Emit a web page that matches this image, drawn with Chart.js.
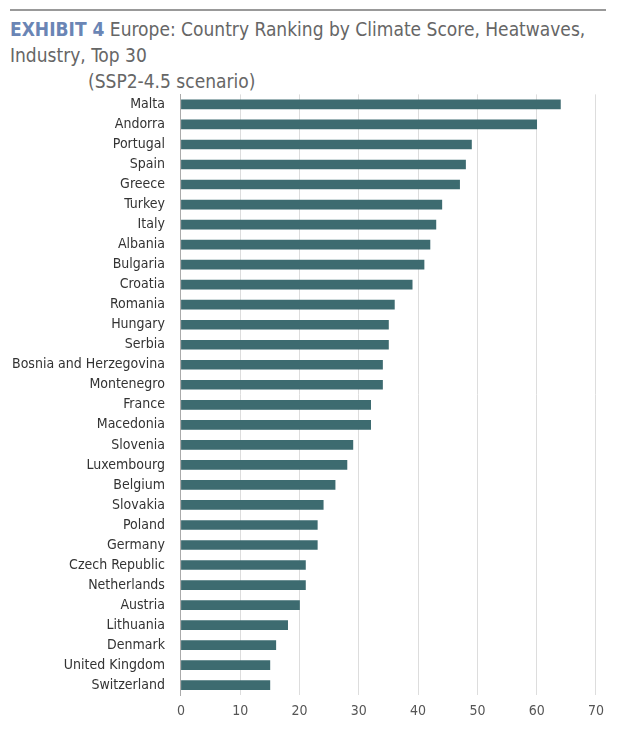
<!DOCTYPE html>
<html>
<head>
<meta charset="utf-8">
<script src="https://cdn.jsdelivr.net/npm/chart.js@4/dist/chart.umd.min.js"></script>
<style>
  body { margin: 0; background: #fff; font-family: "Liberation Sans Narrow", "DejaVu Sans Condensed", sans-serif; }
  .rule { position: absolute; left: 10px; top: 9px; width: 596px; border-top: 2px solid #999; }
  .title { position: absolute; left: 10px; top: 16px; font-size: 19px; color: #666; line-height: 26px; }
  .title b { color: #6a85b5; }
  .title .sub { padding-left: 78px; }
  .wrap { position: absolute; left: 0; top: 78px; width: 612px; height: 650px; }
</style>
</head>
<body>
<div class="rule"></div>
<div class="title"><b>EXHIBIT 4</b> Europe: Country Ranking by Climate Score, Heatwaves, Industry, Top 30<br><span class="sub">(SSP2-4.5 scenario)</span></div>
<div class="wrap"><canvas id="c"></canvas></div>
<script>
// countries, top to bottom
const countries = ['Malta', 'Andorra', 'Portugal', 'Spain', 'Greece', 'Turkey', 'Italy', 'Albania', 'Bulgaria', 'Croatia',
  'Romania', 'Hungary', 'Serbia', 'Bosnia and Herzegovina', 'Montenegro', 'France', 'Macedonia', 'Slovenia', 'Luxembourg', 'Belgium',
  'Slovakia', 'Poland', 'Germany', 'Czech Republic', 'Netherlands', 'Austria', 'Lithuania', 'Denmark', 'United Kingdom', 'Switzerland'];
const scores = [64, 60, 49, 48, 47, 44, 43, 42, 41, 39,
  36, 35, 35, 34, 34, 32, 32, 29, 28, 26,
  24, 23, 23, 21, 21, 20, 18, 16, 15, 15];
const xTicks = [0, 10, 20, 30, 40, 50, 60, 70];

const font = { family: '"Liberation Sans Narrow", "DejaVu Sans Condensed", sans-serif', size: 14 };

new Chart(document.getElementById('c'), {
  type: 'bar',
  data: {
    labels: countries,
    datasets: [{ data: scores, backgroundColor: '#3d6b70', barThickness: 9 }]
  },
  options: {
    indexAxis: 'y',
    responsive: true,
    maintainAspectRatio: false,
    animation: false,
    layout: { padding: { right: 8, left: 4 } },
    plugins: { legend: { display: false }, tooltip: { enabled: false } },
    scales: {
      x: {
        min: 0, max: 70,
        afterBuildTicks: (axis) => { axis.ticks = xTicks.map(v => ({ value: v })); },
        grid: { color: '#ddd', drawTicks: false },
        border: { display: false },
        ticks: { color: '#555', font, padding: 8 }
      },
      y: {
        grid: { display: false },
        border: { display: true, color: '#aaa' },
        ticks: { color: '#333', font, autoSkip: false, padding: 8 }
      }
    }
  }
});
</script>
</body>
</html>
